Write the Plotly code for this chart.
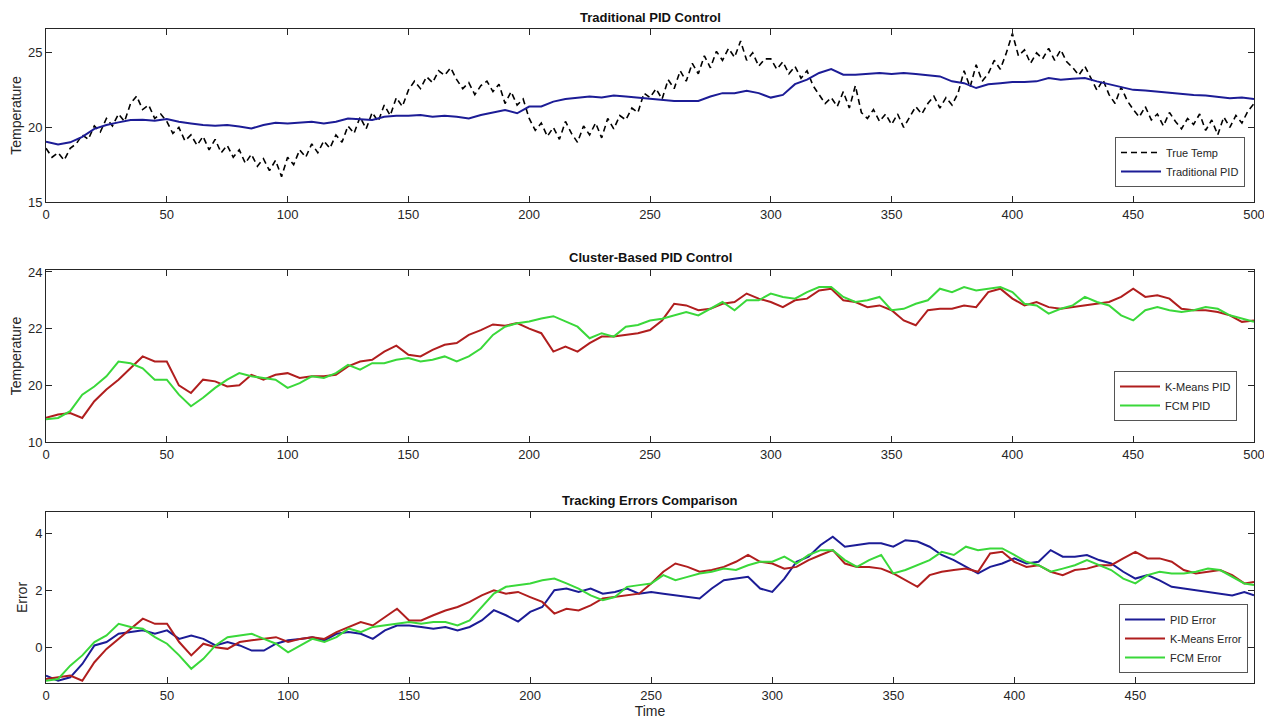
import plotly.graph_objects as go

# ---------------- data ----------------
time_true = [i * 2.5 for i in range(201)]
true_temp = [
    18.6, 18.0, 18.3, 17.8, 18.6, 18.9, 19.5, 19.2, 20.1, 19.7, 20.6, 20.1, 20.9, 20.4, 21.6, 22.1, 21.2, 21.5, 20.6, 20.9,
    20.4, 19.6, 20.0, 19.1, 19.5, 18.8, 19.4, 18.5, 19.2, 18.3, 18.8, 18.0, 18.5, 17.6, 18.2, 17.4, 17.9, 17.1, 17.8, 16.7,
    18.0, 17.5, 18.5, 18.0, 18.9, 18.3, 19.1, 18.6, 19.5, 19.0, 20.1, 19.6, 20.7, 19.9, 21.0, 20.4, 21.5, 20.8, 22.0, 21.4,
    22.5, 23.1, 22.6, 23.4, 23.0, 23.8, 23.5, 24.0, 23.2, 22.6, 23.0, 22.2, 22.8, 23.1, 22.4, 22.9, 21.6, 22.4, 21.5, 21.9,
    20.6, 19.8, 20.3, 19.4, 20.0, 19.2, 20.4, 19.6, 19.0, 20.1, 19.5, 20.3, 19.3, 20.6, 19.9, 20.8, 20.5, 21.3, 21.0, 22.3,
    22.0, 22.6, 21.9, 23.2, 22.6, 23.8, 23.1, 24.3, 23.6, 24.8, 24.0, 25.1, 24.5, 25.3, 24.7, 25.8, 24.5, 25.0, 24.1, 24.6,
    24.6, 23.9, 24.4, 23.6, 24.1, 23.3, 23.8, 22.8, 22.2, 21.6, 22.0, 21.4, 22.4, 21.3, 22.8, 21.0, 20.6, 21.2, 20.4, 20.9,
    20.2, 20.9, 20.0, 20.7, 21.4, 20.9, 21.6, 22.1, 21.3, 22.0, 21.5, 22.3, 23.8, 22.7, 24.2, 23.1, 23.6, 24.5, 23.9, 25.0,
    26.3, 24.8, 25.2, 24.3, 25.0, 24.6, 25.3, 24.5, 25.2, 24.4, 24.0, 23.5, 24.1, 23.3, 22.5, 23.2, 22.2, 21.6, 22.7, 21.8,
    21.2, 20.7, 21.4, 20.5, 20.9, 20.1, 21.0, 20.4, 19.9, 20.6, 20.2, 20.9, 19.8, 20.5, 19.5, 20.7, 20.0, 20.8, 20.3, 21.1, 21.6,
]

time_ctrl = [i * 5 for i in range(101)]
traditional_pid = [
    19.05, 18.85, 19.0, 19.37, 19.9, 20.16, 20.34, 20.5, 20.52, 20.45,
    20.56, 20.38, 20.27, 20.16, 20.11, 20.16, 20.07, 19.93, 20.16, 20.32,
    20.27, 20.34, 20.38, 20.27, 20.38, 20.6, 20.56, 20.5, 20.72, 20.79,
    20.79, 20.83, 20.72, 20.79, 20.72, 20.6, 20.83, 21.0, 21.17, 20.95,
    21.4, 21.4, 21.73, 21.9, 22.0, 22.07, 22.0, 22.14, 22.07, 22.0,
    21.9, 21.85, 21.78, 21.78, 21.78, 22.07, 22.3, 22.3, 22.45, 22.3,
    22.0, 22.18, 22.9, 23.2, 23.65, 23.92, 23.54, 23.54, 23.58, 23.65,
    23.58, 23.65, 23.58, 23.49, 23.42, 23.09, 22.97, 22.64, 22.9, 22.97,
    23.04, 23.04, 23.09, 23.31, 23.2, 23.27, 23.31, 23.09, 22.9, 22.75,
    22.52, 22.48, 22.41, 22.3, 22.25, 22.18, 22.14, 22.07, 21.96, 22.0, 21.91,
]
kmeans_pid = [
    18.85, 18.97, 19.02, 18.85, 19.44, 19.85, 20.2, 20.6, 21.02, 20.84,
    20.84, 20.0, 19.73, 20.2, 20.14, 19.96, 20.0, 20.37, 20.2, 20.37,
    20.43, 20.26, 20.32, 20.32, 20.37, 20.67, 20.84, 20.9, 21.19, 21.4,
    21.08, 21.02, 21.25, 21.43, 21.49, 21.78, 21.95, 22.15, 22.1, 22.2,
    22.0, 21.84, 21.19, 21.37, 21.19, 21.49, 21.72, 21.72, 21.78, 21.84,
    21.95, 22.29, 22.88, 22.82, 22.65, 22.7, 22.88, 22.94, 23.24, 23.06,
    22.94, 22.76, 23.0, 23.06, 23.35, 23.41, 23.0, 22.94, 22.76, 22.82,
    22.65, 22.29, 22.12, 22.65, 22.7, 22.7, 22.82, 22.76, 23.29, 23.41,
    23.06, 22.82, 22.94, 22.76, 22.7, 22.76, 22.82, 22.88, 22.94, 23.12,
    23.41, 23.12, 23.18, 23.06, 22.7, 22.65, 22.65, 22.59, 22.47, 22.24, 22.29,
]
fcm_pid = [
    18.8, 18.85, 19.09, 19.67, 19.96, 20.32, 20.84, 20.78, 20.6, 20.2,
    20.2, 19.67, 19.26, 19.56, 19.91, 20.2, 20.43, 20.32, 20.26, 20.2,
    19.91, 20.08, 20.32, 20.26, 20.43, 20.72, 20.55, 20.78, 20.78, 20.9,
    20.96, 20.84, 20.9, 21.02, 20.84, 21.02, 21.3, 21.78, 22.07, 22.19,
    22.25, 22.36, 22.44, 22.25, 22.07, 21.66, 21.84, 21.72, 22.07, 22.13,
    22.29, 22.35, 22.47, 22.59, 22.47, 22.7, 22.94, 22.65, 23.0, 23.0,
    23.24, 23.12, 23.06, 23.29, 23.47, 23.47, 23.12, 22.94, 23.0, 23.12,
    22.65, 22.7, 22.88, 23.0, 23.41, 23.29, 23.47, 23.35, 23.41, 23.47,
    23.29, 22.88, 22.82, 22.53, 22.7, 22.82, 23.12, 22.94, 22.82, 22.47,
    22.29, 22.65, 22.76, 22.65, 22.59, 22.65, 22.76, 22.7, 22.47, 22.35, 22.24,
]

time_err = [i * 5 for i in range(100)] + [499]
pid_error = [
    -1.0, -1.18, -1.06, -0.59, 0.06, 0.18, 0.47, 0.53, 0.59, 0.47,
    0.59, 0.29, 0.41, 0.29, 0.06, 0.18, 0.06, -0.12, -0.12, 0.12,
    0.24, 0.29, 0.35, 0.24, 0.47, 0.53, 0.47, 0.29, 0.59, 0.76,
    0.76, 0.71, 0.65, 0.71, 0.59, 0.71, 0.94, 1.3, 1.12, 0.9,
    1.24, 1.41, 2.0, 2.06, 1.94, 2.06, 1.88, 1.94, 2.06, 1.88,
    1.94, 1.88, 1.82, 1.76, 1.71, 2.06, 2.35, 2.41, 2.47, 2.06,
    1.94, 2.41, 3.0, 3.18, 3.59, 3.88, 3.53, 3.59, 3.65, 3.65,
    3.53, 3.76, 3.71, 3.53, 3.24, 3.06, 2.82, 2.59, 2.82, 2.94,
    3.12, 2.94, 3.0, 3.41, 3.18, 3.18, 3.24, 3.06, 2.94, 2.65,
    2.41, 2.53, 2.35, 2.12, 2.06, 2.0, 1.94, 1.88, 1.82, 1.94, 1.82,
]
kmeans_error = [
    -1.12, -1.06, -1.0, -1.18, -0.53, -0.06, 0.29, 0.65, 1.0, 0.82,
    0.82, 0.18, -0.29, 0.12, 0.0, -0.06, 0.18, 0.24, 0.29, 0.35,
    0.18, 0.29, 0.35, 0.29, 0.53, 0.71, 0.88, 0.76, 1.06, 1.35,
    0.94, 0.94, 1.12, 1.29, 1.41, 1.59, 1.82, 2.0, 1.88, 1.94,
    1.76, 1.59, 1.18, 1.35, 1.29, 1.47, 1.71, 1.76, 1.82, 1.88,
    2.24, 2.65, 2.94, 2.82, 2.65, 2.71, 2.82, 3.0, 3.24, 3.0,
    2.94, 2.76, 2.82, 3.06, 3.24, 3.41, 2.94, 2.82, 2.82, 2.76,
    2.59, 2.35, 2.12, 2.53, 2.65, 2.71, 2.76, 2.65, 3.29, 3.35,
    3.0, 2.82, 2.88, 2.65, 2.53, 2.71, 2.76, 2.88, 2.88, 3.12,
    3.35, 3.12, 3.12, 3.0, 2.71, 2.59, 2.65, 2.71, 2.53, 2.24, 2.29,
]
fcm_error = [
    -1.18, -1.12, -0.65, -0.29, 0.18, 0.41, 0.82, 0.71, 0.65, 0.35,
    0.12, -0.29, -0.76, -0.41, 0.06, 0.35, 0.41, 0.47, 0.29, 0.12,
    -0.18, 0.06, 0.29, 0.18, 0.35, 0.65, 0.53, 0.71, 0.76, 0.82,
    0.88, 0.82, 0.88, 0.88, 0.76, 0.94, 1.41, 1.88, 2.12, 2.18,
    2.24, 2.35, 2.41, 2.24, 2.06, 1.82, 1.65, 1.76, 2.12, 2.18,
    2.24, 2.53, 2.35, 2.47, 2.59, 2.65, 2.76, 2.71, 2.88, 3.0,
    3.0, 3.18, 2.94, 3.24, 3.41, 3.41, 3.06, 2.82, 3.06, 3.24,
    2.59, 2.71, 2.88, 3.06, 3.35, 3.24, 3.53, 3.41, 3.47, 3.47,
    3.24, 3.0, 2.88, 2.65, 2.76, 2.88, 3.06, 2.88, 2.71, 2.41,
    2.24, 2.53, 2.65, 2.59, 2.59, 2.65, 2.76, 2.71, 2.47, 2.24, 2.18,
]

x_ticks = [0, 50, 100, 150, 200, 250, 300, 350, 400, 450, 500]

# ---------------- styles ----------------
BLUE = "#1c1c96"
RED = "#b01e1e"
GREEN = "#3ad83a"
AXC = "#262626"
FONT = "Liberation Sans"

fig = go.Figure()

fig.add_trace(go.Scatter(x=time_true, y=true_temp, mode="lines", name="True Temp",
                         line=dict(color="black", width=1.6, dash="6px,4px"),
                         xaxis="x", yaxis="y", legend="legend"))
fig.add_trace(go.Scatter(x=time_ctrl, y=traditional_pid, mode="lines", name="Traditional PID",
                         line=dict(color=BLUE, width=2),
                         xaxis="x", yaxis="y", legend="legend"))

fig.add_trace(go.Scatter(x=time_ctrl, y=kmeans_pid, mode="lines", name="K-Means PID",
                         line=dict(color=RED, width=2),
                         xaxis="x2", yaxis="y2", legend="legend2"))
fig.add_trace(go.Scatter(x=time_ctrl, y=fcm_pid, mode="lines", name="FCM PID",
                         line=dict(color=GREEN, width=2),
                         xaxis="x2", yaxis="y2", legend="legend2"))

fig.add_trace(go.Scatter(x=time_err, y=pid_error, mode="lines", name="PID Error",
                         line=dict(color=BLUE, width=2),
                         xaxis="x3", yaxis="y3", legend="legend3"))
fig.add_trace(go.Scatter(x=time_err, y=kmeans_error, mode="lines", name="K-Means Error",
                         line=dict(color=RED, width=2),
                         xaxis="x3", yaxis="y3", legend="legend3"))
fig.add_trace(go.Scatter(x=time_err, y=fcm_error, mode="lines", name="FCM Error",
                         line=dict(color=GREEN, width=2),
                         xaxis="x3", yaxis="y3", legend="legend3"))

def xax(anchor, rng, title=None):
    d = dict(anchor=anchor, domain=[0, 1], range=rng, tickvals=x_ticks,
             showgrid=False, zeroline=False, showline=True, linecolor=AXC, linewidth=1,
             mirror="allticks", ticks="inside", ticklen=6, tickcolor=AXC, automargin=False,
             tickfont=dict(family=FONT, size=13, color=AXC))
    if title:
        d["title"] = dict(text=title, font=dict(family=FONT, size=14, color=AXC), standoff=2)
    return d

def yax(anchor, dom, rng, tickvals, ticktext, title):
    return dict(anchor=anchor, domain=dom, range=rng, tickvals=tickvals, ticktext=ticktext,
                showgrid=False, zeroline=False, showline=True, linecolor=AXC, linewidth=1,
                mirror="allticks", ticks="inside", ticklen=6, tickcolor=AXC, automargin=False,
                tickfont=dict(family=FONT, size=13, color=AXC),
                title=dict(text=title, font=dict(family=FONT, size=14, color=AXC), standoff=4))

# the page body adds an 8px offset; the figure is sized so that the plot
# areas land where the reference has them in the 1272x725 window
OFF = 8
H = 654.0
def dom(top_px, bot_px):
    return [(683 - bot_px) / H, (683 - top_px) / H]

leg_common = dict(bgcolor="white", bordercolor="#555555", borderwidth=1,
                  font=dict(family=FONT, size=11, color=AXC), xanchor="right", yanchor="bottom",
                  tracegroupgap=0, itemwidth=40)

fig.update_layout(
    width=1272 - OFF, height=725 - OFF,
    paper_bgcolor="white", plot_bgcolor="white",
    margin=dict(l=46 - OFF, r=18, t=29 - OFF, b=42, autoexpand=False),
    xaxis=xax("y", [0, 500]),
    yaxis=yax("x", dom(29, 202), [15, 26.6], [15, 20, 25], ["15", "20", "25"], "Temperature"),
    xaxis2=xax("y2", [0, 500]),
    yaxis2=yax("x2", dom(270, 442), [18, 24.07], [18, 20, 22, 24], ["10", "20", "22", "24"], "Temperature"),
    xaxis3=xax("y3", [0, 499], "Time"),
    yaxis3=yax("x3", dom(512, 683), [-1.26, 4.75], [0, 2, 4], ["0", "2", "4"], "Error"),
    legend=dict(x=(1245 - 46) / 1208, y=(683 - 187) / H, **leg_common),
    legend2=dict(x=(1237 - 46) / 1208, y=(683 - 421) / H, **leg_common),
    legend3=dict(x=(1248 - 46) / 1208, y=(683 - 673) / H, **leg_common),
    showlegend=True,
)

titles = [("Traditional PID Control", 17), ("Cluster-Based PID Control", 258),
          ("Tracking Errors Comparison", 500)]
for text, ypx in titles:
    fig.add_annotation(text="<b>%s</b>" % text, xref="paper", yref="paper",
                       x=0.5, y=(683 - ypx) / H, showarrow=False, yanchor="middle",
                       font=dict(family=FONT, size=13, color="#111111"))

fig.write_html("out.html")
